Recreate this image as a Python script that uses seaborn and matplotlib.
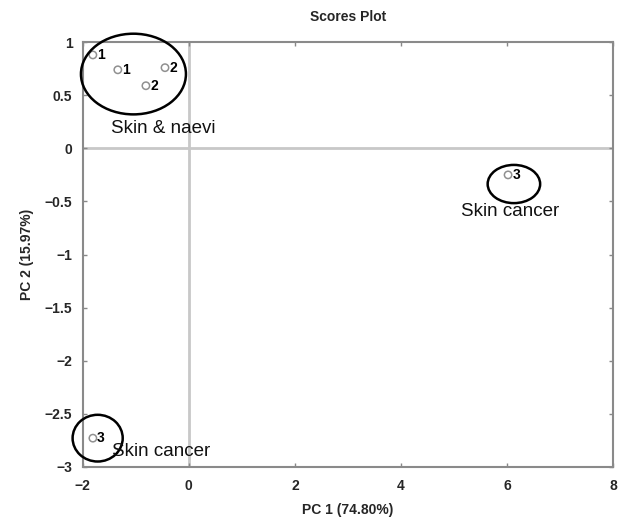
import matplotlib
matplotlib.use("Agg")
import matplotlib.pyplot as plt
from matplotlib.patches import Ellipse
import seaborn as sns
import pandas as pd

# data
pc1 = [-1.81, -1.34, -0.45, -0.81, 6.02, -1.81]
pc2 = [0.88, 0.74, 0.76, 0.59, -0.25, -2.73]
labels = ["1", "1", "2", "2", "3", "3"]

groups = ["Skin & naevi", "Skin cancer", "Skin cancer"]
group_cx = [-1.045, 6.13, -1.72]
group_cy = [0.70, -0.336, -2.73]
group_w = [1.98, 0.99, 0.945]
group_h = [0.76, 0.36, 0.44]
text_x = [-1.47, 5.14, -1.457]
text_y = [0.19, -0.597, -2.859]

title = "Scores Plot"
xlabel = "PC 1 (74.80%)"
ylabel = "PC 2 (15.97%)"
xticks = [-2, 0, 2, 4, 6, 8]
yticks = [-3, -2.5, -2, -1.5, -1, -0.5, 0, 0.5, 1]

sns.set_style("white")
plt.rcParams['font.family'] = ['Liberation Sans', 'DejaVu Sans']

df = pd.DataFrame({"PC1": pc1, "PC2": pc2, "label": labels})

fig = plt.figure(figsize=(6.18, 5.21), dpi=100)
ax = fig.add_axes([0.134, 0.104, 0.858, 0.815])

ax.axhline(0, color="#c8c8c8", lw=2, zorder=0)
ax.axvline(0, color="#c8c8c8", lw=2, zorder=0)

sns.scatterplot(data=df, x="PC1", y="PC2", ax=ax, marker="o", s=28,
                facecolor="none", edgecolor="#909090", linewidth=1.1, zorder=3)
for x, y, t in zip(pc1, pc2, labels):
    ax.text(x + 0.08, y, t, fontsize=10, fontweight="bold", va="center", ha="left", color="black")

for cx, cy, w, h in zip(group_cx, group_cy, group_w, group_h):
    ax.add_patch(Ellipse((cx, cy), w, h, fill=False, edgecolor="black", lw=1.8,
                         zorder=4, clip_on=False))
for tx, ty, g in zip(text_x, text_y, groups):
    ax.text(tx, ty, g, fontsize=13.5, va="center", ha="left", color="#111111", zorder=5)

ax.set_xlim(-2, 8)
ax.set_ylim(-3, 1)
ax.set_xticks(xticks)
ax.set_yticks(yticks)
ax.set_xticklabels([f"{v:g}".replace("-", "\u2212") for v in xticks])
ax.set_yticklabels([f"{v:g}".replace("-", "\u2212") for v in yticks])
ax.tick_params(direction="in", length=3, width=1, color="#888888", labelsize=10,
               top=True, right=True, bottom=True, left=True)
ax.tick_params(axis="x", pad=9)
ax.tick_params(axis="y", pad=7.5)
for lab in ax.get_xticklabels() + ax.get_yticklabels():
    lab.set_fontweight("bold")
for sp in ax.spines.values():
    sp.set_color("#8a8a8a")
    sp.set_linewidth(1.5)
    sp.set_visible(True)

ax.set_title(title, fontsize=10, fontweight="bold", pad=15)
ax.set_xlabel(xlabel, fontsize=10, fontweight="bold", labelpad=7)
ax.set_ylabel(ylabel, fontsize=10, fontweight="bold", labelpad=8)

fig.savefig("out.png", dpi=100)
